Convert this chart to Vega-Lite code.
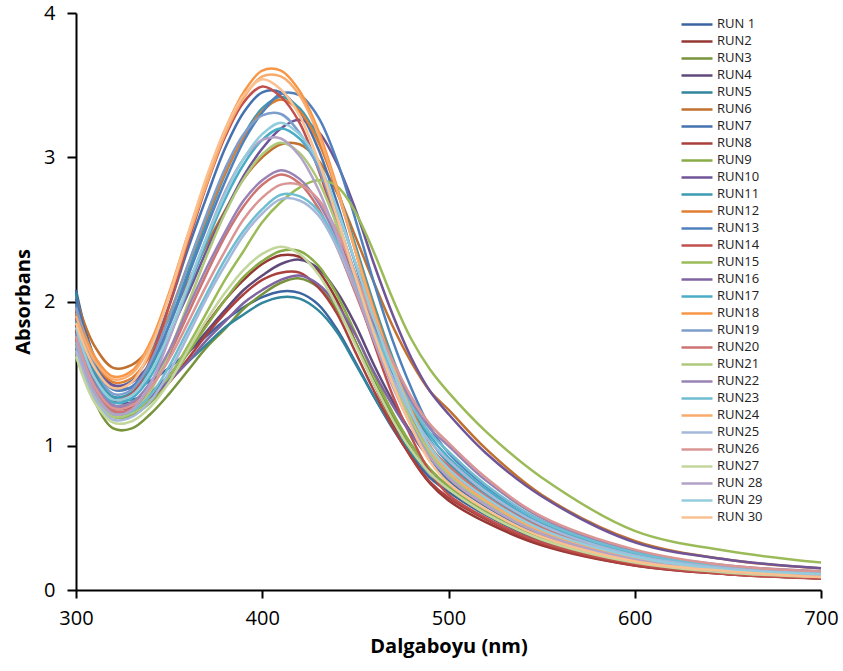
{
"$schema": "https://vega.github.io/schema/vega-lite/v6.json",
"width": 745, "height": 577,
"autosize": {"type": "none"},
"padding": {"left": 76, "top": 13, "right": 22, "bottom": 81},
"background": "white",
"config": {"view": {"stroke": null}, "font": "Open Sans"},
"datasets": {"spectra": [
{"run":"RUN 1","nm":300,"a":2.08},{"run":"RUN 1","nm":310,"a":1.61},{"run":"RUN 1","nm":320,"a":1.41},{"run":"RUN 1","nm":330,"a":1.40},{"run":"RUN 1","nm":340,"a":1.45},{"run":"RUN 1","nm":350,"a":1.54},{"run":"RUN 1","nm":360,"a":1.65},{"run":"RUN 1","nm":370,"a":1.76},{"run":"RUN 1","nm":380,"a":1.87},{"run":"RUN 1","nm":390,"a":1.96},{"run":"RUN 1","nm":400,"a":2.03},{"run":"RUN 1","nm":410,"a":2.07},{"run":"RUN 1","nm":420,"a":2.06},{"run":"RUN 1","nm":430,"a":1.98},{"run":"RUN 1","nm":440,"a":1.81},{"run":"RUN 1","nm":450,"a":1.58},{"run":"RUN 1","nm":460,"a":1.34},{"run":"RUN 1","nm":470,"a":1.12},{"run":"RUN 1","nm":480,"a":0.93},{"run":"RUN 1","nm":490,"a":0.78},{"run":"RUN 1","nm":500,"a":0.68},{"run":"RUN 1","nm":520,"a":0.52},{"run":"RUN 1","nm":550,"a":0.34},{"run":"RUN 1","nm":600,"a":0.18},{"run":"RUN 1","nm":650,"a":0.12},{"run":"RUN 1","nm":700,"a":0.09},
{"run":"RUN2","nm":300,"a":1.84},{"run":"RUN2","nm":310,"a":1.44},{"run":"RUN2","nm":320,"a":1.26},{"run":"RUN2","nm":330,"a":1.27},{"run":"RUN2","nm":340,"a":1.35},{"run":"RUN2","nm":350,"a":1.48},{"run":"RUN2","nm":360,"a":1.66},{"run":"RUN2","nm":370,"a":1.84},{"run":"RUN2","nm":380,"a":2.01},{"run":"RUN2","nm":390,"a":2.15},{"run":"RUN2","nm":400,"a":2.26},{"run":"RUN2","nm":410,"a":2.32},{"run":"RUN2","nm":420,"a":2.31},{"run":"RUN2","nm":430,"a":2.21},{"run":"RUN2","nm":440,"a":2.01},{"run":"RUN2","nm":450,"a":1.72},{"run":"RUN2","nm":460,"a":1.43},{"run":"RUN2","nm":470,"a":1.16},{"run":"RUN2","nm":480,"a":0.92},{"run":"RUN2","nm":490,"a":0.74},{"run":"RUN2","nm":500,"a":0.62},{"run":"RUN2","nm":520,"a":0.47},{"run":"RUN2","nm":550,"a":0.31},{"run":"RUN2","nm":600,"a":0.17},{"run":"RUN2","nm":650,"a":0.11},{"run":"RUN2","nm":700,"a":0.08},
{"run":"RUN3","nm":300,"a":1.72},{"run":"RUN3","nm":310,"a":1.31},{"run":"RUN3","nm":320,"a":1.12},{"run":"RUN3","nm":330,"a":1.12},{"run":"RUN3","nm":340,"a":1.22},{"run":"RUN3","nm":350,"a":1.36},{"run":"RUN3","nm":360,"a":1.52},{"run":"RUN3","nm":370,"a":1.68},{"run":"RUN3","nm":380,"a":1.81},{"run":"RUN3","nm":390,"a":1.95},{"run":"RUN3","nm":400,"a":2.05},{"run":"RUN3","nm":410,"a":2.13},{"run":"RUN3","nm":420,"a":2.16},{"run":"RUN3","nm":430,"a":2.10},{"run":"RUN3","nm":440,"a":1.95},{"run":"RUN3","nm":450,"a":1.72},{"run":"RUN3","nm":460,"a":1.45},{"run":"RUN3","nm":470,"a":1.20},{"run":"RUN3","nm":480,"a":0.98},{"run":"RUN3","nm":490,"a":0.81},{"run":"RUN3","nm":500,"a":0.70},{"run":"RUN3","nm":520,"a":0.53},{"run":"RUN3","nm":550,"a":0.35},{"run":"RUN3","nm":600,"a":0.19},{"run":"RUN3","nm":650,"a":0.12},{"run":"RUN3","nm":700,"a":0.09},
{"run":"RUN4","nm":300,"a":1.95},{"run":"RUN4","nm":310,"a":1.50},{"run":"RUN4","nm":320,"a":1.31},{"run":"RUN4","nm":330,"a":1.30},{"run":"RUN4","nm":340,"a":1.37},{"run":"RUN4","nm":350,"a":1.49},{"run":"RUN4","nm":360,"a":1.64},{"run":"RUN4","nm":370,"a":1.79},{"run":"RUN4","nm":380,"a":1.94},{"run":"RUN4","nm":390,"a":2.08},{"run":"RUN4","nm":400,"a":2.18},{"run":"RUN4","nm":410,"a":2.26},{"run":"RUN4","nm":420,"a":2.29},{"run":"RUN4","nm":430,"a":2.23},{"run":"RUN4","nm":440,"a":2.07},{"run":"RUN4","nm":450,"a":1.84},{"run":"RUN4","nm":460,"a":1.56},{"run":"RUN4","nm":470,"a":1.31},{"run":"RUN4","nm":480,"a":1.09},{"run":"RUN4","nm":490,"a":0.91},{"run":"RUN4","nm":500,"a":0.80},{"run":"RUN4","nm":520,"a":0.61},{"run":"RUN4","nm":550,"a":0.40},{"run":"RUN4","nm":600,"a":0.22},{"run":"RUN4","nm":650,"a":0.14},{"run":"RUN4","nm":700,"a":0.10},
{"run":"RUN5","nm":300,"a":2.06},{"run":"RUN5","nm":310,"a":1.55},{"run":"RUN5","nm":320,"a":1.33},{"run":"RUN5","nm":330,"a":1.32},{"run":"RUN5","nm":340,"a":1.37},{"run":"RUN5","nm":350,"a":1.46},{"run":"RUN5","nm":360,"a":1.58},{"run":"RUN5","nm":370,"a":1.70},{"run":"RUN5","nm":380,"a":1.82},{"run":"RUN5","nm":390,"a":1.91},{"run":"RUN5","nm":400,"a":1.99},{"run":"RUN5","nm":410,"a":2.03},{"run":"RUN5","nm":420,"a":2.02},{"run":"RUN5","nm":430,"a":1.94},{"run":"RUN5","nm":440,"a":1.79},{"run":"RUN5","nm":450,"a":1.57},{"run":"RUN5","nm":460,"a":1.34},{"run":"RUN5","nm":470,"a":1.13},{"run":"RUN5","nm":480,"a":0.95},{"run":"RUN5","nm":490,"a":0.81},{"run":"RUN5","nm":500,"a":0.72},{"run":"RUN5","nm":520,"a":0.55},{"run":"RUN5","nm":550,"a":0.36},{"run":"RUN5","nm":600,"a":0.19},{"run":"RUN5","nm":650,"a":0.12},{"run":"RUN5","nm":700,"a":0.09},
{"run":"RUN6","nm":300,"a":2.02},{"run":"RUN6","nm":310,"a":1.69},{"run":"RUN6","nm":320,"a":1.54},{"run":"RUN6","nm":330,"a":1.56},{"run":"RUN6","nm":340,"a":1.68},{"run":"RUN6","nm":350,"a":1.88},{"run":"RUN6","nm":360,"a":2.13},{"run":"RUN6","nm":370,"a":2.39},{"run":"RUN6","nm":380,"a":2.63},{"run":"RUN6","nm":390,"a":2.85},{"run":"RUN6","nm":400,"a":3.00},{"run":"RUN6","nm":410,"a":3.09},{"run":"RUN6","nm":420,"a":3.09},{"run":"RUN6","nm":430,"a":2.98},{"run":"RUN6","nm":440,"a":2.76},{"run":"RUN6","nm":450,"a":2.45},{"run":"RUN6","nm":460,"a":2.13},{"run":"RUN6","nm":470,"a":1.83},{"run":"RUN6","nm":480,"a":1.58},{"run":"RUN6","nm":490,"a":1.38},{"run":"RUN6","nm":500,"a":1.25},{"run":"RUN6","nm":520,"a":0.98},{"run":"RUN6","nm":550,"a":0.66},{"run":"RUN6","nm":600,"a":0.34},{"run":"RUN6","nm":650,"a":0.21},{"run":"RUN6","nm":700,"a":0.15},
{"run":"RUN7","nm":300,"a":2.02},{"run":"RUN7","nm":310,"a":1.61},{"run":"RUN7","nm":320,"a":1.42},{"run":"RUN7","nm":330,"a":1.45},{"run":"RUN7","nm":340,"a":1.65},{"run":"RUN7","nm":350,"a":1.97},{"run":"RUN7","nm":360,"a":2.36},{"run":"RUN7","nm":370,"a":2.72},{"run":"RUN7","nm":380,"a":3.06},{"run":"RUN7","nm":390,"a":3.31},{"run":"RUN7","nm":400,"a":3.45},{"run":"RUN7","nm":410,"a":3.45},{"run":"RUN7","nm":420,"a":3.32},{"run":"RUN7","nm":430,"a":3.06},{"run":"RUN7","nm":440,"a":2.69},{"run":"RUN7","nm":450,"a":2.26},{"run":"RUN7","nm":460,"a":1.85},{"run":"RUN7","nm":470,"a":1.48},{"run":"RUN7","nm":480,"a":1.18},{"run":"RUN7","nm":490,"a":0.92},{"run":"RUN7","nm":500,"a":0.76},{"run":"RUN7","nm":520,"a":0.58},{"run":"RUN7","nm":550,"a":0.38},{"run":"RUN7","nm":600,"a":0.21},{"run":"RUN7","nm":650,"a":0.13},{"run":"RUN7","nm":700,"a":0.10},
{"run":"RUN8","nm":300,"a":1.80},{"run":"RUN8","nm":310,"a":1.41},{"run":"RUN8","nm":320,"a":1.24},{"run":"RUN8","nm":330,"a":1.24},{"run":"RUN8","nm":340,"a":1.32},{"run":"RUN8","nm":350,"a":1.44},{"run":"RUN8","nm":360,"a":1.60},{"run":"RUN8","nm":370,"a":1.77},{"run":"RUN8","nm":380,"a":1.92},{"run":"RUN8","nm":390,"a":2.05},{"run":"RUN8","nm":400,"a":2.15},{"run":"RUN8","nm":410,"a":2.20},{"run":"RUN8","nm":420,"a":2.20},{"run":"RUN8","nm":430,"a":2.10},{"run":"RUN8","nm":440,"a":1.92},{"run":"RUN8","nm":450,"a":1.65},{"run":"RUN8","nm":460,"a":1.38},{"run":"RUN8","nm":470,"a":1.13},{"run":"RUN8","nm":480,"a":0.92},{"run":"RUN8","nm":490,"a":0.75},{"run":"RUN8","nm":500,"a":0.64},{"run":"RUN8","nm":520,"a":0.49},{"run":"RUN8","nm":550,"a":0.32},{"run":"RUN8","nm":600,"a":0.17},{"run":"RUN8","nm":650,"a":0.11},{"run":"RUN8","nm":700,"a":0.08},
{"run":"RUN9","nm":300,"a":1.70},{"run":"RUN9","nm":310,"a":1.35},{"run":"RUN9","nm":320,"a":1.20},{"run":"RUN9","nm":330,"a":1.21},{"run":"RUN9","nm":340,"a":1.30},{"run":"RUN9","nm":350,"a":1.44},{"run":"RUN9","nm":360,"a":1.64},{"run":"RUN9","nm":370,"a":1.83},{"run":"RUN9","nm":380,"a":2.01},{"run":"RUN9","nm":390,"a":2.17},{"run":"RUN9","nm":400,"a":2.28},{"run":"RUN9","nm":410,"a":2.35},{"run":"RUN9","nm":420,"a":2.35},{"run":"RUN9","nm":430,"a":2.25},{"run":"RUN9","nm":440,"a":2.05},{"run":"RUN9","nm":450,"a":1.78},{"run":"RUN9","nm":460,"a":1.49},{"run":"RUN9","nm":470,"a":1.23},{"run":"RUN9","nm":480,"a":1.01},{"run":"RUN9","nm":490,"a":0.84},{"run":"RUN9","nm":500,"a":0.72},{"run":"RUN9","nm":520,"a":0.55},{"run":"RUN9","nm":550,"a":0.36},{"run":"RUN9","nm":600,"a":0.19},{"run":"RUN9","nm":650,"a":0.12},{"run":"RUN9","nm":700,"a":0.09},
{"run":"RUN10","nm":300,"a":1.90},{"run":"RUN10","nm":310,"a":1.57},{"run":"RUN10","nm":320,"a":1.42},{"run":"RUN10","nm":330,"a":1.44},{"run":"RUN10","nm":340,"a":1.57},{"run":"RUN10","nm":350,"a":1.78},{"run":"RUN10","nm":360,"a":2.05},{"run":"RUN10","nm":370,"a":2.35},{"run":"RUN10","nm":380,"a":2.62},{"run":"RUN10","nm":390,"a":2.87},{"run":"RUN10","nm":400,"a":3.06},{"run":"RUN10","nm":410,"a":3.20},{"run":"RUN10","nm":420,"a":3.26},{"run":"RUN10","nm":430,"a":3.18},{"run":"RUN10","nm":440,"a":2.96},{"run":"RUN10","nm":450,"a":2.64},{"run":"RUN10","nm":460,"a":2.26},{"run":"RUN10","nm":470,"a":1.91},{"run":"RUN10","nm":480,"a":1.61},{"run":"RUN10","nm":490,"a":1.38},{"run":"RUN10","nm":500,"a":1.22},{"run":"RUN10","nm":520,"a":0.95},{"run":"RUN10","nm":550,"a":0.65},{"run":"RUN10","nm":600,"a":0.33},{"run":"RUN10","nm":650,"a":0.21},{"run":"RUN10","nm":700,"a":0.15},
{"run":"RUN11","nm":300,"a":1.88},{"run":"RUN11","nm":310,"a":1.51},{"run":"RUN11","nm":320,"a":1.34},{"run":"RUN11","nm":330,"a":1.37},{"run":"RUN11","nm":340,"a":1.54},{"run":"RUN11","nm":350,"a":1.84},{"run":"RUN11","nm":360,"a":2.20},{"run":"RUN11","nm":370,"a":2.55},{"run":"RUN11","nm":380,"a":2.88},{"run":"RUN11","nm":390,"a":3.15},{"run":"RUN11","nm":400,"a":3.34},{"run":"RUN11","nm":410,"a":3.42},{"run":"RUN11","nm":420,"a":3.34},{"run":"RUN11","nm":430,"a":3.13},{"run":"RUN11","nm":440,"a":2.79},{"run":"RUN11","nm":450,"a":2.39},{"run":"RUN11","nm":460,"a":1.98},{"run":"RUN11","nm":470,"a":1.61},{"run":"RUN11","nm":480,"a":1.29},{"run":"RUN11","nm":490,"a":1.04},{"run":"RUN11","nm":500,"a":0.88},{"run":"RUN11","nm":520,"a":0.67},{"run":"RUN11","nm":550,"a":0.44},{"run":"RUN11","nm":600,"a":0.24},{"run":"RUN11","nm":650,"a":0.15},{"run":"RUN11","nm":700,"a":0.11},
{"run":"RUN12","nm":300,"a":1.92},{"run":"RUN12","nm":310,"a":1.59},{"run":"RUN12","nm":320,"a":1.44},{"run":"RUN12","nm":330,"a":1.47},{"run":"RUN12","nm":340,"a":1.63},{"run":"RUN12","nm":350,"a":1.91},{"run":"RUN12","nm":360,"a":2.25},{"run":"RUN12","nm":370,"a":2.58},{"run":"RUN12","nm":380,"a":2.89},{"run":"RUN12","nm":390,"a":3.14},{"run":"RUN12","nm":400,"a":3.32},{"run":"RUN12","nm":410,"a":3.40},{"run":"RUN12","nm":420,"a":3.32},{"run":"RUN12","nm":430,"a":3.11},{"run":"RUN12","nm":440,"a":2.77},{"run":"RUN12","nm":450,"a":2.36},{"run":"RUN12","nm":460,"a":1.95},{"run":"RUN12","nm":470,"a":1.58},{"run":"RUN12","nm":480,"a":1.26},{"run":"RUN12","nm":490,"a":1.00},{"run":"RUN12","nm":500,"a":0.84},{"run":"RUN12","nm":520,"a":0.64},{"run":"RUN12","nm":550,"a":0.42},{"run":"RUN12","nm":600,"a":0.23},{"run":"RUN12","nm":650,"a":0.14},{"run":"RUN12","nm":700,"a":0.11},
{"run":"RUN13","nm":300,"a":1.98},{"run":"RUN13","nm":310,"a":1.57},{"run":"RUN13","nm":320,"a":1.39},{"run":"RUN13","nm":330,"a":1.41},{"run":"RUN13","nm":340,"a":1.57},{"run":"RUN13","nm":350,"a":1.83},{"run":"RUN13","nm":360,"a":2.17},{"run":"RUN13","nm":370,"a":2.51},{"run":"RUN13","nm":380,"a":2.83},{"run":"RUN13","nm":390,"a":3.11},{"run":"RUN13","nm":400,"a":3.31},{"run":"RUN13","nm":410,"a":3.44},{"run":"RUN13","nm":420,"a":3.43},{"run":"RUN13","nm":430,"a":3.28},{"run":"RUN13","nm":440,"a":2.98},{"run":"RUN13","nm":450,"a":2.57},{"run":"RUN13","nm":460,"a":2.13},{"run":"RUN13","nm":470,"a":1.73},{"run":"RUN13","nm":480,"a":1.40},{"run":"RUN13","nm":490,"a":1.13},{"run":"RUN13","nm":500,"a":0.95},{"run":"RUN13","nm":520,"a":0.72},{"run":"RUN13","nm":550,"a":0.48},{"run":"RUN13","nm":600,"a":0.26},{"run":"RUN13","nm":650,"a":0.16},{"run":"RUN13","nm":700,"a":0.12},
{"run":"RUN14","nm":300,"a":1.80},{"run":"RUN14","nm":310,"a":1.47},{"run":"RUN14","nm":320,"a":1.32},{"run":"RUN14","nm":330,"a":1.36},{"run":"RUN14","nm":340,"a":1.60},{"run":"RUN14","nm":350,"a":1.97},{"run":"RUN14","nm":360,"a":2.40},{"run":"RUN14","nm":370,"a":2.80},{"run":"RUN14","nm":380,"a":3.14},{"run":"RUN14","nm":390,"a":3.38},{"run":"RUN14","nm":400,"a":3.49},{"run":"RUN14","nm":410,"a":3.42},{"run":"RUN14","nm":420,"a":3.24},{"run":"RUN14","nm":430,"a":2.92},{"run":"RUN14","nm":440,"a":2.53},{"run":"RUN14","nm":450,"a":2.10},{"run":"RUN14","nm":460,"a":1.71},{"run":"RUN14","nm":470,"a":1.35},{"run":"RUN14","nm":480,"a":1.06},{"run":"RUN14","nm":490,"a":0.82},{"run":"RUN14","nm":500,"a":0.66},{"run":"RUN14","nm":520,"a":0.50},{"run":"RUN14","nm":550,"a":0.33},{"run":"RUN14","nm":600,"a":0.18},{"run":"RUN14","nm":650,"a":0.11},{"run":"RUN14","nm":700,"a":0.08},
{"run":"RUN15","nm":300,"a":1.64},{"run":"RUN15","nm":310,"a":1.35},{"run":"RUN15","nm":320,"a":1.22},{"run":"RUN15","nm":330,"a":1.23},{"run":"RUN15","nm":340,"a":1.33},{"run":"RUN15","nm":350,"a":1.48},{"run":"RUN15","nm":360,"a":1.69},{"run":"RUN15","nm":370,"a":1.92},{"run":"RUN15","nm":380,"a":2.15},{"run":"RUN15","nm":390,"a":2.35},{"run":"RUN15","nm":400,"a":2.55},{"run":"RUN15","nm":410,"a":2.69},{"run":"RUN15","nm":420,"a":2.79},{"run":"RUN15","nm":430,"a":2.84},{"run":"RUN15","nm":440,"a":2.80},{"run":"RUN15","nm":450,"a":2.62},{"run":"RUN15","nm":460,"a":2.34},{"run":"RUN15","nm":470,"a":2.02},{"run":"RUN15","nm":480,"a":1.74},{"run":"RUN15","nm":490,"a":1.53},{"run":"RUN15","nm":500,"a":1.37},{"run":"RUN15","nm":520,"a":1.10},{"run":"RUN15","nm":550,"a":0.78},{"run":"RUN15","nm":600,"a":0.41},{"run":"RUN15","nm":650,"a":0.27},{"run":"RUN15","nm":700,"a":0.19},
{"run":"RUN16","nm":300,"a":1.88},{"run":"RUN16","nm":310,"a":1.47},{"run":"RUN16","nm":320,"a":1.28},{"run":"RUN16","nm":330,"a":1.28},{"run":"RUN16","nm":340,"a":1.34},{"run":"RUN16","nm":350,"a":1.45},{"run":"RUN16","nm":360,"a":1.58},{"run":"RUN16","nm":370,"a":1.73},{"run":"RUN16","nm":380,"a":1.86},{"run":"RUN16","nm":390,"a":1.99},{"run":"RUN16","nm":400,"a":2.08},{"run":"RUN16","nm":410,"a":2.15},{"run":"RUN16","nm":420,"a":2.18},{"run":"RUN16","nm":430,"a":2.12},{"run":"RUN16","nm":440,"a":1.98},{"run":"RUN16","nm":450,"a":1.77},{"run":"RUN16","nm":460,"a":1.51},{"run":"RUN16","nm":470,"a":1.28},{"run":"RUN16","nm":480,"a":1.08},{"run":"RUN16","nm":490,"a":0.92},{"run":"RUN16","nm":500,"a":0.82},{"run":"RUN16","nm":520,"a":0.62},{"run":"RUN16","nm":550,"a":0.41},{"run":"RUN16","nm":600,"a":0.22},{"run":"RUN16","nm":650,"a":0.14},{"run":"RUN16","nm":700,"a":0.10},
{"run":"RUN17","nm":300,"a":1.86},{"run":"RUN17","nm":310,"a":1.47},{"run":"RUN17","nm":320,"a":1.30},{"run":"RUN17","nm":330,"a":1.33},{"run":"RUN17","nm":340,"a":1.48},{"run":"RUN17","nm":350,"a":1.75},{"run":"RUN17","nm":360,"a":2.08},{"run":"RUN17","nm":370,"a":2.41},{"run":"RUN17","nm":380,"a":2.71},{"run":"RUN17","nm":390,"a":2.95},{"run":"RUN17","nm":400,"a":3.12},{"run":"RUN17","nm":410,"a":3.20},{"run":"RUN17","nm":420,"a":3.13},{"run":"RUN17","nm":430,"a":2.94},{"run":"RUN17","nm":440,"a":2.64},{"run":"RUN17","nm":450,"a":2.27},{"run":"RUN17","nm":460,"a":1.91},{"run":"RUN17","nm":470,"a":1.57},{"run":"RUN17","nm":480,"a":1.29},{"run":"RUN17","nm":490,"a":1.07},{"run":"RUN17","nm":500,"a":0.92},{"run":"RUN17","nm":520,"a":0.70},{"run":"RUN17","nm":550,"a":0.46},{"run":"RUN17","nm":600,"a":0.25},{"run":"RUN17","nm":650,"a":0.16},{"run":"RUN17","nm":700,"a":0.12},
{"run":"RUN18","nm":300,"a":1.95},{"run":"RUN18","nm":310,"a":1.62},{"run":"RUN18","nm":320,"a":1.48},{"run":"RUN18","nm":330,"a":1.52},{"run":"RUN18","nm":340,"a":1.72},{"run":"RUN18","nm":350,"a":2.06},{"run":"RUN18","nm":360,"a":2.46},{"run":"RUN18","nm":370,"a":2.84},{"run":"RUN18","nm":380,"a":3.19},{"run":"RUN18","nm":390,"a":3.45},{"run":"RUN18","nm":400,"a":3.60},{"run":"RUN18","nm":410,"a":3.60},{"run":"RUN18","nm":420,"a":3.46},{"run":"RUN18","nm":430,"a":3.19},{"run":"RUN18","nm":440,"a":2.80},{"run":"RUN18","nm":450,"a":2.35},{"run":"RUN18","nm":460,"a":1.92},{"run":"RUN18","nm":470,"a":1.54},{"run":"RUN18","nm":480,"a":1.21},{"run":"RUN18","nm":490,"a":0.95},{"run":"RUN18","nm":500,"a":0.78},{"run":"RUN18","nm":520,"a":0.59},{"run":"RUN18","nm":550,"a":0.39},{"run":"RUN18","nm":600,"a":0.21},{"run":"RUN18","nm":650,"a":0.13},{"run":"RUN18","nm":700,"a":0.10},
{"run":"RUN19","nm":300,"a":1.96},{"run":"RUN19","nm":310,"a":1.55},{"run":"RUN19","nm":320,"a":1.36},{"run":"RUN19","nm":330,"a":1.39},{"run":"RUN19","nm":340,"a":1.58},{"run":"RUN19","nm":350,"a":1.89},{"run":"RUN19","nm":360,"a":2.25},{"run":"RUN19","nm":370,"a":2.60},{"run":"RUN19","nm":380,"a":2.92},{"run":"RUN19","nm":390,"a":3.16},{"run":"RUN19","nm":400,"a":3.29},{"run":"RUN19","nm":410,"a":3.30},{"run":"RUN19","nm":420,"a":3.17},{"run":"RUN19","nm":430,"a":2.93},{"run":"RUN19","nm":440,"a":2.58},{"run":"RUN19","nm":450,"a":2.19},{"run":"RUN19","nm":460,"a":1.81},{"run":"RUN19","nm":470,"a":1.47},{"run":"RUN19","nm":480,"a":1.19},{"run":"RUN19","nm":490,"a":0.95},{"run":"RUN19","nm":500,"a":0.80},{"run":"RUN19","nm":520,"a":0.61},{"run":"RUN19","nm":550,"a":0.40},{"run":"RUN19","nm":600,"a":0.22},{"run":"RUN19","nm":650,"a":0.14},{"run":"RUN19","nm":700,"a":0.10},
{"run":"RUN20","nm":300,"a":1.74},{"run":"RUN20","nm":310,"a":1.39},{"run":"RUN20","nm":320,"a":1.24},{"run":"RUN20","nm":330,"a":1.26},{"run":"RUN20","nm":340,"a":1.40},{"run":"RUN20","nm":350,"a":1.63},{"run":"RUN20","nm":360,"a":1.91},{"run":"RUN20","nm":370,"a":2.19},{"run":"RUN20","nm":380,"a":2.45},{"run":"RUN20","nm":390,"a":2.66},{"run":"RUN20","nm":400,"a":2.81},{"run":"RUN20","nm":410,"a":2.88},{"run":"RUN20","nm":420,"a":2.82},{"run":"RUN20","nm":430,"a":2.65},{"run":"RUN20","nm":440,"a":2.38},{"run":"RUN20","nm":450,"a":2.06},{"run":"RUN20","nm":460,"a":1.73},{"run":"RUN20","nm":470,"a":1.44},{"run":"RUN20","nm":480,"a":1.19},{"run":"RUN20","nm":490,"a":0.99},{"run":"RUN20","nm":500,"a":0.86},{"run":"RUN20","nm":520,"a":0.65},{"run":"RUN20","nm":550,"a":0.43},{"run":"RUN20","nm":600,"a":0.23},{"run":"RUN20","nm":650,"a":0.15},{"run":"RUN20","nm":700,"a":0.11},
{"run":"RUN21","nm":300,"a":1.70},{"run":"RUN21","nm":310,"a":1.35},{"run":"RUN21","nm":320,"a":1.20},{"run":"RUN21","nm":330,"a":1.23},{"run":"RUN21","nm":340,"a":1.38},{"run":"RUN21","nm":350,"a":1.65},{"run":"RUN21","nm":360,"a":1.98},{"run":"RUN21","nm":370,"a":2.31},{"run":"RUN21","nm":380,"a":2.61},{"run":"RUN21","nm":390,"a":2.85},{"run":"RUN21","nm":400,"a":3.02},{"run":"RUN21","nm":410,"a":3.10},{"run":"RUN21","nm":420,"a":3.03},{"run":"RUN21","nm":430,"a":2.84},{"run":"RUN21","nm":440,"a":2.53},{"run":"RUN21","nm":450,"a":2.17},{"run":"RUN21","nm":460,"a":1.79},{"run":"RUN21","nm":470,"a":1.46},{"run":"RUN21","nm":480,"a":1.18},{"run":"RUN21","nm":490,"a":0.95},{"run":"RUN21","nm":500,"a":0.80},{"run":"RUN21","nm":520,"a":0.61},{"run":"RUN21","nm":550,"a":0.40},{"run":"RUN21","nm":600,"a":0.22},{"run":"RUN21","nm":650,"a":0.14},{"run":"RUN21","nm":700,"a":0.10},
{"run":"RUN22","nm":300,"a":1.78},{"run":"RUN22","nm":310,"a":1.43},{"run":"RUN22","nm":320,"a":1.28},{"run":"RUN22","nm":330,"a":1.30},{"run":"RUN22","nm":340,"a":1.44},{"run":"RUN22","nm":350,"a":1.66},{"run":"RUN22","nm":360,"a":1.95},{"run":"RUN22","nm":370,"a":2.23},{"run":"RUN22","nm":380,"a":2.48},{"run":"RUN22","nm":390,"a":2.70},{"run":"RUN22","nm":400,"a":2.84},{"run":"RUN22","nm":410,"a":2.91},{"run":"RUN22","nm":420,"a":2.85},{"run":"RUN22","nm":430,"a":2.69},{"run":"RUN22","nm":440,"a":2.44},{"run":"RUN22","nm":450,"a":2.13},{"run":"RUN22","nm":460,"a":1.82},{"run":"RUN22","nm":470,"a":1.55},{"run":"RUN22","nm":480,"a":1.31},{"run":"RUN22","nm":490,"a":1.12},{"run":"RUN22","nm":500,"a":1.00},{"run":"RUN22","nm":520,"a":0.76},{"run":"RUN22","nm":550,"a":0.50},{"run":"RUN22","nm":600,"a":0.27},{"run":"RUN22","nm":650,"a":0.17},{"run":"RUN22","nm":700,"a":0.13},
{"run":"RUN23","nm":300,"a":1.70},{"run":"RUN23","nm":310,"a":1.37},{"run":"RUN23","nm":320,"a":1.22},{"run":"RUN23","nm":330,"a":1.24},{"run":"RUN23","nm":340,"a":1.35},{"run":"RUN23","nm":350,"a":1.55},{"run":"RUN23","nm":360,"a":1.80},{"run":"RUN23","nm":370,"a":2.05},{"run":"RUN23","nm":380,"a":2.29},{"run":"RUN23","nm":390,"a":2.49},{"run":"RUN23","nm":400,"a":2.64},{"run":"RUN23","nm":410,"a":2.74},{"run":"RUN23","nm":420,"a":2.73},{"run":"RUN23","nm":430,"a":2.63},{"run":"RUN23","nm":440,"a":2.41},{"run":"RUN23","nm":450,"a":2.12},{"run":"RUN23","nm":460,"a":1.80},{"run":"RUN23","nm":470,"a":1.52},{"run":"RUN23","nm":480,"a":1.28},{"run":"RUN23","nm":490,"a":1.09},{"run":"RUN23","nm":500,"a":0.96},{"run":"RUN23","nm":520,"a":0.73},{"run":"RUN23","nm":550,"a":0.48},{"run":"RUN23","nm":600,"a":0.26},{"run":"RUN23","nm":650,"a":0.16},{"run":"RUN23","nm":700,"a":0.12},
{"run":"RUN24","nm":300,"a":1.90},{"run":"RUN24","nm":310,"a":1.59},{"run":"RUN24","nm":320,"a":1.46},{"run":"RUN24","nm":330,"a":1.50},{"run":"RUN24","nm":340,"a":1.70},{"run":"RUN24","nm":350,"a":2.03},{"run":"RUN24","nm":360,"a":2.43},{"run":"RUN24","nm":370,"a":2.81},{"run":"RUN24","nm":380,"a":3.16},{"run":"RUN24","nm":390,"a":3.41},{"run":"RUN24","nm":400,"a":3.56},{"run":"RUN24","nm":410,"a":3.56},{"run":"RUN24","nm":420,"a":3.43},{"run":"RUN24","nm":430,"a":3.16},{"run":"RUN24","nm":440,"a":2.78},{"run":"RUN24","nm":450,"a":2.35},{"run":"RUN24","nm":460,"a":1.93},{"run":"RUN24","nm":470,"a":1.56},{"run":"RUN24","nm":480,"a":1.24},{"run":"RUN24","nm":490,"a":0.98},{"run":"RUN24","nm":500,"a":0.82},{"run":"RUN24","nm":520,"a":0.62},{"run":"RUN24","nm":550,"a":0.41},{"run":"RUN24","nm":600,"a":0.22},{"run":"RUN24","nm":650,"a":0.14},{"run":"RUN24","nm":700,"a":0.10},
{"run":"RUN25","nm":300,"a":1.66},{"run":"RUN25","nm":310,"a":1.33},{"run":"RUN25","nm":320,"a":1.18},{"run":"RUN25","nm":330,"a":1.20},{"run":"RUN25","nm":340,"a":1.31},{"run":"RUN25","nm":350,"a":1.51},{"run":"RUN25","nm":360,"a":1.76},{"run":"RUN25","nm":370,"a":2.02},{"run":"RUN25","nm":380,"a":2.25},{"run":"RUN25","nm":390,"a":2.46},{"run":"RUN25","nm":400,"a":2.61},{"run":"RUN25","nm":410,"a":2.71},{"run":"RUN25","nm":420,"a":2.70},{"run":"RUN25","nm":430,"a":2.60},{"run":"RUN25","nm":440,"a":2.38},{"run":"RUN25","nm":450,"a":2.08},{"run":"RUN25","nm":460,"a":1.76},{"run":"RUN25","nm":470,"a":1.47},{"run":"RUN25","nm":480,"a":1.22},{"run":"RUN25","nm":490,"a":1.03},{"run":"RUN25","nm":500,"a":0.90},{"run":"RUN25","nm":520,"a":0.68},{"run":"RUN25","nm":550,"a":0.45},{"run":"RUN25","nm":600,"a":0.24},{"run":"RUN25","nm":650,"a":0.15},{"run":"RUN25","nm":700,"a":0.11},
{"run":"RUN26","nm":300,"a":1.76},{"run":"RUN26","nm":310,"a":1.41},{"run":"RUN26","nm":320,"a":1.26},{"run":"RUN26","nm":330,"a":1.28},{"run":"RUN26","nm":340,"a":1.40},{"run":"RUN26","nm":350,"a":1.60},{"run":"RUN26","nm":360,"a":1.85},{"run":"RUN26","nm":370,"a":2.11},{"run":"RUN26","nm":380,"a":2.35},{"run":"RUN26","nm":390,"a":2.57},{"run":"RUN26","nm":400,"a":2.72},{"run":"RUN26","nm":410,"a":2.81},{"run":"RUN26","nm":420,"a":2.81},{"run":"RUN26","nm":430,"a":2.71},{"run":"RUN26","nm":440,"a":2.49},{"run":"RUN26","nm":450,"a":2.19},{"run":"RUN26","nm":460,"a":1.87},{"run":"RUN26","nm":470,"a":1.59},{"run":"RUN26","nm":480,"a":1.34},{"run":"RUN26","nm":490,"a":1.15},{"run":"RUN26","nm":500,"a":1.02},{"run":"RUN26","nm":520,"a":0.78},{"run":"RUN26","nm":550,"a":0.51},{"run":"RUN26","nm":600,"a":0.28},{"run":"RUN26","nm":650,"a":0.17},{"run":"RUN26","nm":700,"a":0.13},
{"run":"RUN27","nm":300,"a":1.62},{"run":"RUN27","nm":310,"a":1.30},{"run":"RUN27","nm":320,"a":1.16},{"run":"RUN27","nm":330,"a":1.17},{"run":"RUN27","nm":340,"a":1.27},{"run":"RUN27","nm":350,"a":1.44},{"run":"RUN27","nm":360,"a":1.66},{"run":"RUN27","nm":370,"a":1.87},{"run":"RUN27","nm":380,"a":2.06},{"run":"RUN27","nm":390,"a":2.22},{"run":"RUN27","nm":400,"a":2.33},{"run":"RUN27","nm":410,"a":2.38},{"run":"RUN27","nm":420,"a":2.33},{"run":"RUN27","nm":430,"a":2.19},{"run":"RUN27","nm":440,"a":1.97},{"run":"RUN27","nm":450,"a":1.70},{"run":"RUN27","nm":460,"a":1.43},{"run":"RUN27","nm":470,"a":1.18},{"run":"RUN27","nm":480,"a":0.97},{"run":"RUN27","nm":490,"a":0.81},{"run":"RUN27","nm":500,"a":0.70},{"run":"RUN27","nm":520,"a":0.53},{"run":"RUN27","nm":550,"a":0.35},{"run":"RUN27","nm":600,"a":0.19},{"run":"RUN27","nm":650,"a":0.12},{"run":"RUN27","nm":700,"a":0.09},
{"run":"RUN 28","nm":300,"a":1.72},{"run":"RUN 28","nm":310,"a":1.37},{"run":"RUN 28","nm":320,"a":1.22},{"run":"RUN 28","nm":330,"a":1.25},{"run":"RUN 28","nm":340,"a":1.43},{"run":"RUN 28","nm":350,"a":1.74},{"run":"RUN 28","nm":360,"a":2.10},{"run":"RUN 28","nm":370,"a":2.44},{"run":"RUN 28","nm":380,"a":2.76},{"run":"RUN 28","nm":390,"a":2.99},{"run":"RUN 28","nm":400,"a":3.12},{"run":"RUN 28","nm":410,"a":3.13},{"run":"RUN 28","nm":420,"a":3.01},{"run":"RUN 28","nm":430,"a":2.78},{"run":"RUN 28","nm":440,"a":2.46},{"run":"RUN 28","nm":450,"a":2.09},{"run":"RUN 28","nm":460,"a":1.73},{"run":"RUN 28","nm":470,"a":1.41},{"run":"RUN 28","nm":480,"a":1.14},{"run":"RUN 28","nm":490,"a":0.92},{"run":"RUN 28","nm":500,"a":0.78},{"run":"RUN 28","nm":520,"a":0.59},{"run":"RUN 28","nm":550,"a":0.39},{"run":"RUN 28","nm":600,"a":0.21},{"run":"RUN 28","nm":650,"a":0.13},{"run":"RUN 28","nm":700,"a":0.10},
{"run":"RUN 29","nm":300,"a":1.82},{"run":"RUN 29","nm":310,"a":1.47},{"run":"RUN 29","nm":320,"a":1.32},{"run":"RUN 29","nm":330,"a":1.35},{"run":"RUN 29","nm":340,"a":1.51},{"run":"RUN 29","nm":350,"a":1.78},{"run":"RUN 29","nm":360,"a":2.11},{"run":"RUN 29","nm":370,"a":2.44},{"run":"RUN 29","nm":380,"a":2.74},{"run":"RUN 29","nm":390,"a":2.99},{"run":"RUN 29","nm":400,"a":3.16},{"run":"RUN 29","nm":410,"a":3.24},{"run":"RUN 29","nm":420,"a":3.16},{"run":"RUN 29","nm":430,"a":2.97},{"run":"RUN 29","nm":440,"a":2.65},{"run":"RUN 29","nm":450,"a":2.27},{"run":"RUN 29","nm":460,"a":1.88},{"run":"RUN 29","nm":470,"a":1.53},{"run":"RUN 29","nm":480,"a":1.23},{"run":"RUN 29","nm":490,"a":0.99},{"run":"RUN 29","nm":500,"a":0.84},{"run":"RUN 29","nm":520,"a":0.64},{"run":"RUN 29","nm":550,"a":0.42},{"run":"RUN 29","nm":600,"a":0.23},{"run":"RUN 29","nm":650,"a":0.14},{"run":"RUN 29","nm":700,"a":0.11},
{"run":"RUN 30","nm":300,"a":1.85},{"run":"RUN 30","nm":310,"a":1.54},{"run":"RUN 30","nm":320,"a":1.40},{"run":"RUN 30","nm":330,"a":1.44},{"run":"RUN 30","nm":340,"a":1.67},{"run":"RUN 30","nm":350,"a":2.04},{"run":"RUN 30","nm":360,"a":2.46},{"run":"RUN 30","nm":370,"a":2.86},{"run":"RUN 30","nm":380,"a":3.19},{"run":"RUN 30","nm":390,"a":3.43},{"run":"RUN 30","nm":400,"a":3.54},{"run":"RUN 30","nm":410,"a":3.47},{"run":"RUN 30","nm":420,"a":3.29},{"run":"RUN 30","nm":430,"a":2.98},{"run":"RUN 30","nm":440,"a":2.59},{"run":"RUN 30","nm":450,"a":2.17},{"run":"RUN 30","nm":460,"a":1.78},{"run":"RUN 30","nm":470,"a":1.43},{"run":"RUN 30","nm":480,"a":1.13},{"run":"RUN 30","nm":490,"a":0.89},{"run":"RUN 30","nm":500,"a":0.74},{"run":"RUN 30","nm":520,"a":0.56},{"run":"RUN 30","nm":550,"a":0.37},{"run":"RUN 30","nm":600,"a":0.20},{"run":"RUN 30","nm":650,"a":0.13},{"run":"RUN 30","nm":700,"a":0.09}
]},
"data": {"name": "spectra"},
"mark": {"type": "line", "interpolate": "catmull-rom", "strokeWidth": 2.5},
"encoding": {
"x": {"field": "nm", "type": "quantitative",
 "scale": {"domain": [300, 700], "nice": false},
 "axis": {"values": [300, 400, 500, 600, 700], "title": "Dalgaboyu (nm)", "grid": false,
  "domainColor": "black", "domainWidth": 2, "tickColor": "black", "tickWidth": 2, "tickSize": 8,
  "labelFont": "Open Sans", "labelFontSize": 20, "labelColor": "black", "labelPadding": 10, "labelFlush": false,
  "titleFont": "Open Sans", "titleFontSize": 20, "titleFontWeight": "bold", "titleColor": "black", "titlePadding": 8}},
"y": {"field": "a", "type": "quantitative",
 "scale": {"domain": [0, 4], "nice": false},
 "axis": {"values": [0, 1, 2, 3, 4], "title": "Absorbans", "grid": false,
  "domainColor": "black", "domainWidth": 2, "tickColor": "black", "tickWidth": 2, "tickSize": 9,
  "labelFont": "Open Sans", "labelFontSize": 20, "labelColor": "black", "labelPadding": 12, "labelFlush": false,
  "titleFont": "Open Sans", "titleFontSize": 20, "titleFontWeight": "bold", "titleColor": "black", "titlePadding": 10}},
"color": {"field": "run", "type": "nominal",
 "scale": {
  "domain": ["RUN 1","RUN2","RUN3","RUN4","RUN5","RUN6","RUN7","RUN8","RUN9","RUN10","RUN11","RUN12","RUN13","RUN14","RUN15","RUN16","RUN17","RUN18","RUN19","RUN20","RUN21","RUN22","RUN23","RUN24","RUN25","RUN26","RUN27","RUN 28","RUN 29","RUN 30"],
  "range": ["#3B64A0","#953735","#77933C","#604A7B","#31859C","#C0712F","#4472B1","#AA3F3C","#89AC46","#6F5597","#3D9AB3","#E07E31","#4F81BD","#C0504D","#9BBB59","#8064A2","#4BACC6","#F79646","#7D9DCB","#CD7371","#AFC97A","#9983B5","#6FBDD1","#F9AB6B","#A5B8DA","#D99694","#C3D69B","#B3A2C7","#93CDDD","#FAC090"]},
 "legend": {"orient": "none", "legendX": 604, "legendY": 3, "title": null, "padding": 0,
  "symbolType": "stroke", "symbolStrokeWidth": 2.5, "symbolSize": 961, "symbolOffset": 0,
  "clipHeight": 16.86, "rowPadding": 0,
  "labelFont": "Open Sans", "labelFontSize": 13, "labelColor": "#222222", "labelOffset": 3, "labelLimit": 200}}
}
}
